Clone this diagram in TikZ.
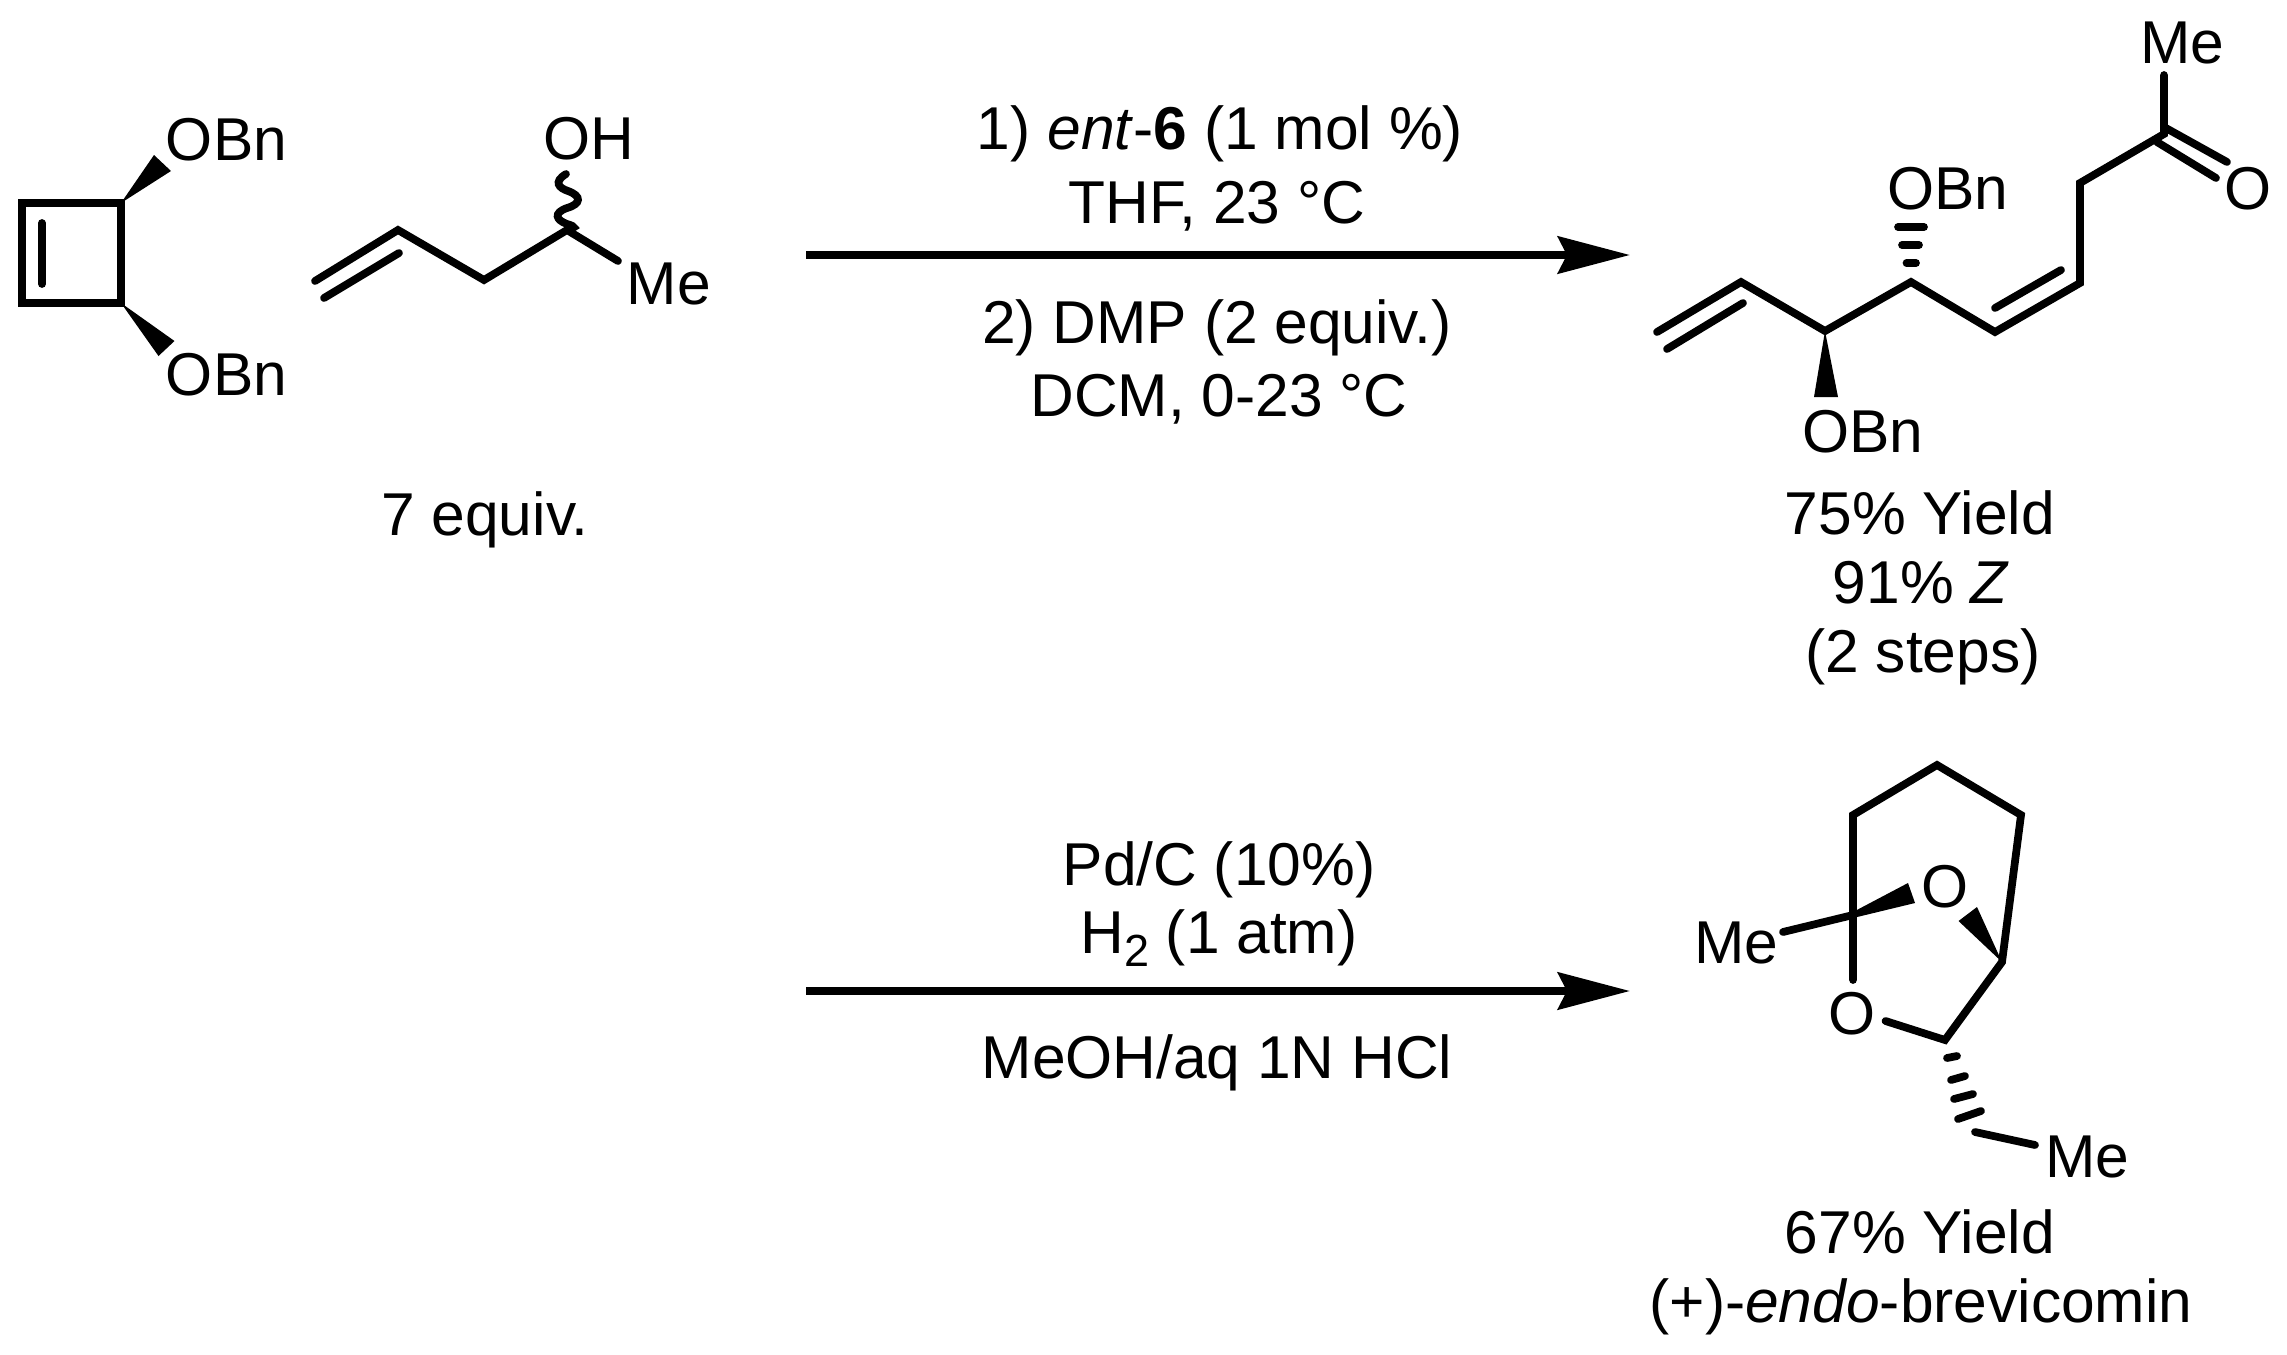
\documentclass[tikz,border=0pt]{standalone}
\usepackage{fontspec}
\setmainfont{Liberation Sans}
\usetikzlibrary{arrows.meta,calc}
\tikzset{
  lbl/.style={inner sep=0pt, anchor=base, font=\fontsize{17.2pt}{20pt}\selectfont},
  bond/.style={line width=2.2pt, line cap=round, line join=miter, miter limit=10},
  hashbar/.style={line width=2.2pt, line cap=round},
  wedgebond/.style={fill=black, draw=none},
  rxnarrow/.style={line width=2.25pt, line cap=butt, -{Stealth[length=0.72cm,width=0.37cm,inset=0.09cm]}}
}
\begin{document}
\begin{tikzpicture}[x=0.01cm,y=-0.01cm]
\useasboundingbox (0,0) rectangle (2287,1354);
% ---- cyclobutene
\coordinate (a1) at (22,203); \coordinate (a2) at (121,203);
\coordinate (a3) at (121,303); \coordinate (a4) at (22,303);
\coordinate (a5) at (42,223); \coordinate (a6) at (42,284);
\draw[bond] (a1) -- (a2) -- (a3) -- (a4) -- cycle;
\draw[bond] (a5) -- (a6);
\coordinate (w1a) at (154,155); \coordinate (w1b) at (171,171);
\coordinate (w2a) at (174.5,341); \coordinate (w2b) at (158.5,356);
\fill[wedgebond] (a2) -- (w1a) -- (w1b) -- cycle;
\fill[wedgebond] (a3) -- (w2a) -- (w2b) -- cycle;
\node[lbl] (obn1) at (226.5,160) {OBn};
\node[lbl] (obn2) at (226.5,395) {OBn};
% ---- pentenol
\coordinate (b1) at (315,281); \coordinate (b2) at (398,230);
\coordinate (b3) at (484,280); \coordinate (b4) at (567,230);
\coordinate (b5) at (618,261);
\coordinate (b6) at (324,298); \coordinate (b7) at (399,253);
\draw[bond] (b1) -- (b2) -- (b3) -- (b4) -- (b5);
\draw[bond] (b6) -- (b7);
\coordinate (b8) at (566,174);
\draw[line width=2.2pt, line cap=round] (b8) .. controls (553,182) and (559,188) .. (568,191)
  .. controls (582,196) and (581,204) .. (567,208)
  .. controls (553,213) and (556,220) .. (567,224)
  .. controls (577,227) and (575,228) .. (b4);
\node[lbl] (oh) at (589,159) {OH};
\node[lbl] (me1) at (669,304) {Me};
\node[lbl] (eq) at (485,535) {7 equiv.};
% ---- arrows
\coordinate (r1s) at (806,255); \coordinate (r1e) at (1630,255);
\coordinate (r2s) at (806,991); \coordinate (r2e) at (1630,991);
\draw[rxnarrow] (r1s) -- (r1e);
\draw[rxnarrow] (r2s) -- (r2e);
\node[lbl] (t1) at (1220,149) {1) \textit{ent}-\textbf{6} (1 mol \%)};
\node[lbl] (t2) at (1217,223) {THF, 23 °C};
\node[lbl] (t3) at (1217,343) {2) DMP (2 equiv.)};
\node[lbl] (t4) at (1219,416) {DCM, 0-23 °C};
\node[lbl] (t5) at (1219,885) {Pd/C (10\%)};
\node[lbl] (t6) at (1219,953) {H\raisebox{-0.22em}{\fontsize{12.8pt}{14pt}\selectfont 2} (1 atm)};
\node[lbl] (t7) at (1217,1078) {MeOH/aq 1N HCl};
% ---- open-chain product
\coordinate (c1) at (1657,332); \coordinate (c2) at (1741,282);
\coordinate (c3) at (1825,331); \coordinate (c4) at (1911,282);
\coordinate (c5) at (1995,332); \coordinate (c6) at (2080,283);
\coordinate (c7) at (2080,183); \coordinate (c8) at (2164,134);
\coordinate (c9) at (2164,75);
\coordinate (c10) at (1667,349); \coordinate (c11) at (1743,303);
\coordinate (c12) at (1995,308); \coordinate (c13) at (2061,270);
\coordinate (c14) at (2164,127); \coordinate (c15) at (2227,162);
\coordinate (c16) at (2157,142); \coordinate (c17) at (2216,178);
\draw[bond] (c1) -- (c2) -- (c3) -- (c4) -- (c5) -- (c6) -- (c7) -- (c8) -- (c9);
\draw[bond] (c10) -- (c11);
\draw[bond] (c12) -- (c13);
\draw[bond] (c14) -- (c15);
\draw[bond] (c16) -- (c17);
\coordinate (d1) at (1814,397); \coordinate (d2) at (1838,397);
\fill[wedgebond] (c3) -- (d1) -- (d2) -- cycle;
\coordinate (h1a) at (1898,227); \coordinate (h1b) at (1924,227);
\coordinate (h2a) at (1902,245); \coordinate (h2b) at (1919,245);
\coordinate (h3a) at (1906.5,263); \coordinate (h3b) at (1916,263);
\draw[hashbar] (h1a) -- (h1b);
\draw[hashbar] (h2a) -- (h2b);
\draw[hashbar] (h3a) -- (h3b);
\node[lbl] (me2) at (2182,63) {Me};
\node[lbl] (o1) at (2248,209) {O};
\node[lbl] (obn3) at (1948,209) {OBn};
\node[lbl] (obn4) at (1863,452) {OBn};
\node[lbl] (y1) at (1920,534) {75\% Yield};
\node[lbl] (y2) at (1921,603) {91\% \textit{Z}};
\node[lbl] (y3) at (1923,672) {(2 steps)};
% ---- brevicomin
\coordinate (e1) at (1853,980); \coordinate (e2) at (1853,815);
\coordinate (e3) at (1937,765); \coordinate (e4) at (2021,815);
\coordinate (e5) at (2002,962); \coordinate (e6) at (1945,1040);
\coordinate (e7) at (1885.5,1021);
\draw[bond] (e1) -- (e2) -- (e3) -- (e4) -- (e5) -- (e6) -- (e7);
\coordinate (f1) at (1783,932); \coordinate (f2) at (1853,915);
\draw[bond] (f1) -- (f2);
\coordinate (f3) at (1908,883); \coordinate (f4) at (1915,903);
\fill[wedgebond] ($(f2)+(0,-3)$) -- (f3) -- (f4) -- ($(f2)+(0,3)$) -- cycle;
\coordinate (g1) at (1977,907); \coordinate (g2) at (1958.5,921);
\fill[wedgebond] (e5) -- (g1) -- (g2) -- cycle;
\coordinate (k1a) at (1947,1058); \coordinate (k1b) at (1957,1056);
\coordinate (k2a) at (1951,1080); \coordinate (k2b) at (1965,1076);
\coordinate (k3a) at (1954,1099); \coordinate (k3b) at (1973,1094);
\coordinate (k4a) at (1958,1119); \coordinate (k4b) at (1981,1111);
\draw[hashbar] (k1a) -- (k1b);
\draw[hashbar] (k2a) -- (k2b);
\draw[hashbar] (k3a) -- (k3b);
\draw[hashbar] (k4a) -- (k4b);
\coordinate (m1) at (1975,1132); \coordinate (m2) at (2035,1145);
\draw[bond] (m1) -- (m2);
\node[lbl] (o2) at (1945,907) {O};
\node[lbl] (o3) at (1852,1034) {O};
\node[lbl] (me3) at (1736,963) {Me};
\node[lbl] (me4) at (2087.5,1177) {Me};
\node[lbl] (y4) at (1920,1253) {67\% Yield};
\node[lbl] (y5) at (1921,1322) {(+)-\textit{endo}-brevicomin};
\end{tikzpicture}
\end{document}
